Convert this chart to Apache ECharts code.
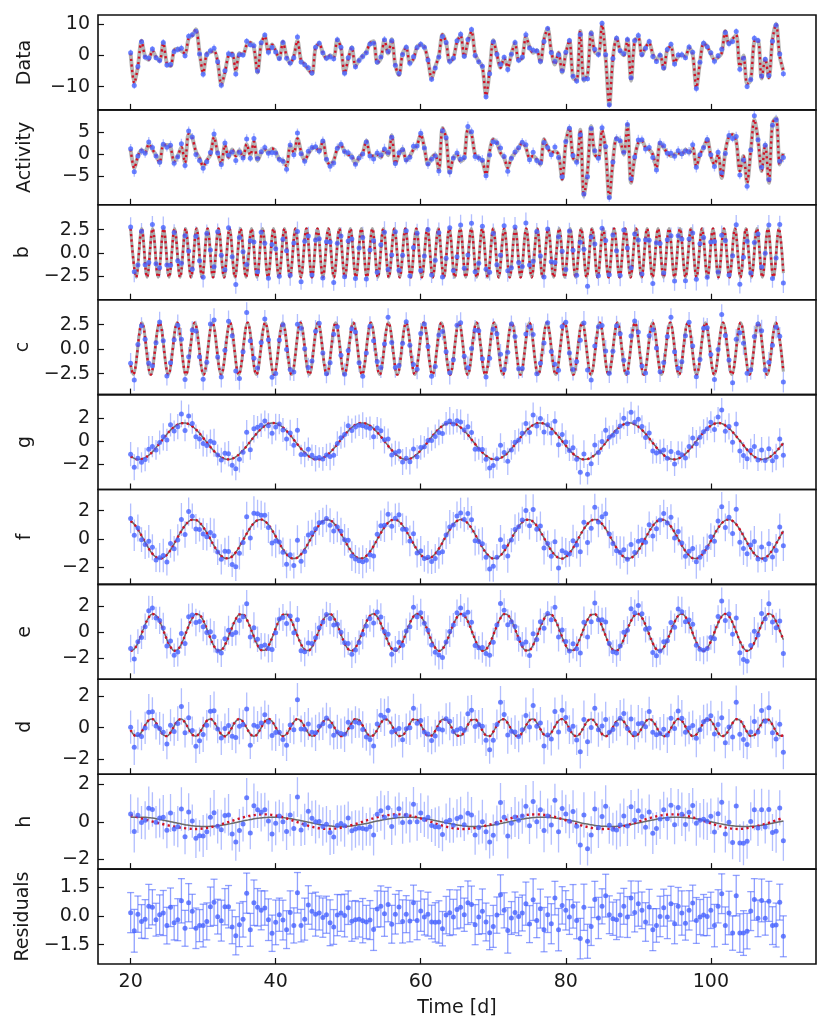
<!DOCTYPE html>
<html><head><meta charset="utf-8">
<script src="https://cdn.jsdelivr.net/npm/echarts@6/dist/echarts.min.js"></script>
<style>html,body{margin:0;padding:0;background:#fff}#c{width:831px;height:1035px}</style>
</head><body><div id="c"></div>
<script>
// ---------------- data ----------------
const T = [
20,20.5,21,21.5,22,22.5,23,23.5,24,24.5,
25,25.5,26,26.5,27,27.5,28,28.5,29,29.5,
30,30.5,31,31.5,32,32.5,33,33.5,34,34.5,
35,35.5,36,36.5,37,37.5,38,38.5,39,39.5,
40,40.5,41,41.5,42,42.5,43,43.5,44,44.5,
45,45.5,46,46.5,47,47.5,48,48.5,49,49.5,
50,50.5,51,51.5,52,52.5,53,53.5,54,54.5,
55,55.5,56,56.5,57,57.5,58,58.5,59,59.5,
60,60.5,61,61.5,62,62.5,63,63.5,64,64.5,
65,65.5,66,66.5,67,67.5,68,68.5,69,69.5,
70,70.5,71,71.5,72,72.5,73,73.5,74,74.5,
75,75.5,76,76.5,77,77.5,78,78.5,79,79.5,
80,80.5,81,81.5,82,82.5,83,83.5,84,84.5,
85,85.5,86,86.5,87,87.5,88,88.5,89,89.5,
90,90.5,91,91.5,92,92.5,93,93.5,94,94.5,
95,95.5,96,96.5,97,97.5,98,98.5,99,99.5,
100,100.5,101,101.5,102,102.5,103,103.5,104,104.5,
105,105.5,106,106.5,107,107.5,108,108.5,109,109.5,
110];

// residuals (bottom panel)
const RESID = [
0.18,-0.77,0.10,-0.28,-0.16,0.51,0.46,-0.19,0.07,0.16,
-0.50,0.46,-0.35,-0.19,0.80,-0.64,0.70,0.25,-0.64,-0.50,
-0.50,-0.28,0.49,0.72,-0.03,-0.24,0.49,0.49,-0.57,-1.03,
-0.46,-0.17,1.20,-0.72,0.70,0.46,0.30,0.42,-0.19,-0.90,
-0.33,0.07,-0.21,-0.71,0.19,-0.49,1.22,-0.50,-0.16,0.58,
0.25,0.10,0.16,-0.08,0.07,-0.35,-0.57,0.05,0.16,0.03,
0.44,-0.27,-0.19,-0.17,-0.24,-0.31,-0.21,-0.70,0.37,0.51,
0.12,0.60,-0.43,0.10,0.47,-0.28,0.10,-0.26,0.70,-0.23,
0.26,-0.05,0.10,-0.31,-0.33,-0.31,-0.66,0.05,0.18,-0.05,
0.35,0.46,0.07,0.70,0.61,-0.45,-0.05,0.25,-0.31,-0.87,
-0.54,0.05,1.12,0.30,-0.75,-0.10,0.19,-0.02,0.16,0.65,
-0.42,0.86,-0.23,0.39,-0.71,0.07,-0.40,0.94,-0.71,0.56,
0.30,-0.05,0.51,-0.23,-1.18,0.46,-1.32,-0.54,0.87,-0.10,
0.51,1.07,0.07,-0.14,-0.19,0.05,0.51,-0.05,0.94,0.19,
0.65,0.30,-0.31,0.47,-0.71,-0.49,-0.02,0.44,-0.05,0.65,
-0.40,0.51,0.16,-0.37,0.30,0.68,-0.23,-0.05,0.05,-0.02,
0.30,-0.50,0.51,1.17,-0.50,0.16,-0.89,1.07,-0.89,-0.89,
-0.79,0.26,0.87,-0.12,0.82,-0.12,0.77,-0.50,-0.47,0.73,
-1.06];

// per-point error (1 sigma)
const ERR = [
1.05,1.12,0.95,0.88,1.02,1.15,0.92,0.86,1.04,1.18,
0.96,1.01,0.90,1.10,1.16,0.94,1.00,0.89,1.06,0.84,
1.12,0.97,1.03,1.21,0.91,1.07,0.95,1.11,0.88,1.00,
1.14,0.93,1.05,0.86,1.19,0.98,1.02,0.90,1.09,0.95,
1.17,0.87,1.04,0.99,1.13,0.92,1.06,0.85,1.10,1.01,
0.94,1.15,0.89,1.03,0.97,1.20,0.91,1.08,0.96,1.12,
0.88,1.05,1.00,0.93,1.16,0.87,1.02,1.10,0.95,1.07,
1.18,0.90,0.99,1.04,0.86,1.13,0.97,1.09,0.92,1.01,
1.06,0.94,1.15,0.88,1.03,1.11,0.90,0.98,1.20,0.93,
1.02,1.08,0.87,1.14,0.96,1.05,0.91,1.17,0.99,0.89,
1.10,0.95,1.04,0.92,1.19,0.86,1.07,1.00,0.94,1.13,
0.97,1.09,0.90,1.02,1.16,0.93,1.05,0.88,1.11,0.98,
1.03,0.91,1.14,0.96,1.06,1.21,0.89,1.00,0.95,1.08,
0.92,1.12,0.99,0.87,1.04,1.15,0.94,1.07,0.90,1.02,
1.18,0.96,1.01,0.93,1.10,0.88,1.06,0.97,1.13,0.91,
1.05,0.99,1.16,0.89,1.03,0.94,1.20,0.92,1.08,1.00,
0.95,1.11,0.87,1.04,0.98,1.14,0.90,1.06,1.01,1.17,
0.93,1.02,1.09,0.96,1.12,0.88,1.05,0.99,1.15,0.94,
1.07];

// activity model (red dotted, Activity panel)
const ACT_FIT = [
1.0,-3.3,-0.6,0.9,0.3,2.2,1.0,-0.3,-2.0,2.0,
2.0,1.5,-1.8,-0.5,1.5,-2.0,4.5,3.6,0.5,-1.0,
-2.8,-1.5,-0.2,3.8,0.2,-2.2,2.0,-0.8,1.0,-0.5,
0.8,-0.8,2.2,-0.3,2.8,-1.5,0.2,1.0,0.3,1.2,
0.5,-1.3,-1.5,-2.8,1.8,0.3,3.5,0.5,-1.5,0.0,
1.2,1.5,0.5,3.0,-1.3,-2.5,-1.5,1.2,2.0,0.5,
-0.2,-0.5,-2.2,-0.8,0.2,3.0,-0.3,-0.5,-0.2,-0.8,
1.0,-0.3,4.2,-2.3,-0.2,1.2,-1.5,-0.5,1.0,2.0,
4.4,1.4,-2.4,-0.9,-0.15,-3.6,5.9,3.6,-4.3,-0.9,
-0.15,-1.7,-0.9,5.5,4.4,-0.15,-0.9,-1.7,-4.7,0.6,
3.3,2.5,0.2,-0.9,-3.2,-0.9,0.2,1.4,2.5,1.4,
-0.9,-0.5,-1.3,-2.4,3.3,1.4,0.2,0.6,-0.15,-5.8,
2.5,5.9,-0.9,-1.7,5.5,-9.6,-3.9,6.3,-0.15,-0.9,
5.4,0.6,-10.0,-1.7,3.6,2.9,-0.15,6.7,-6.6,-0.9,
2.5,2.9,1.4,1.0,-0.15,-3.2,2.5,1.4,0.2,-0.5,
-0.15,0.2,-0.15,1.0,0.2,1.4,-2.8,-0.15,1.4,3.3,
-0.5,-2.4,-0.15,-5.5,0.6,4.0,4.4,2.9,-3.9,-0.5,
-6.6,0.6,7.8,3.3,-3.9,2.1,-6.6,7.0,8.2,-2.4,
0.2];

// planet signals at the observation times
const B_FIT = [
2.62,-1.26,-1.40,2.61,-1.12,-1.54,2.60,-0.97,-1.67,2.58,
-0.81,-1.79,2.54,-0.66,-1.90,2.49,-0.50,-2.01,2.44,-0.34,
-2.11,2.38,-0.18,-2.21,2.30,-0.01,-2.29,2.22,0.15,-2.36,
2.13,0.31,-2.43,2.03,0.47,-2.49,1.92,0.63,-2.53,1.81,
0.79,-2.57,1.69,0.94,-2.60,1.56,1.09,-2.61,1.43,1.24,
-2.62,1.29,1.38,-2.62,1.14,1.52,-2.60,0.99,1.65,-2.58,
0.84,1.77,-2.55,0.69,1.89,-2.50,0.53,2.00,-2.45,0.36,
2.10,-2.39,0.20,2.19,-2.32,0.04,2.28,-2.23,-0.12,2.35,
-2.15,-0.28,2.42,-2.05,-0.45,2.48,-1.94,-0.61,2.53,-1.83,
-0.76,2.56,-1.71,-0.92,2.59,-1.58,-1.07,2.61,-1.45,-1.21,
2.62,-1.31,-1.36,2.62,-1.17,-1.49,2.61,-1.02,-1.62,2.58,
-0.87,-1.75,2.55,-0.71,-1.87,2.51,-0.55,-1.98,2.46,-0.39,
-2.08,2.40,-0.23,-2.17,2.33,-0.07,-2.26,2.25,0.09,-2.34,
2.16,0.26,-2.41,2.06,0.42,-2.47,1.96,0.58,-2.52,1.85,
0.74,-2.56,1.73,0.89,-2.59,1.60,1.04,-2.61,1.47,1.19,
-2.62,1.33,1.33,-2.62,1.19,1.47,-2.61,1.04,1.60,-2.59,
0.89,1.73,-2.56,0.74,1.85,-2.52,0.58,1.96,-2.47,0.42,
2.06,-2.41,0.26,2.16,-2.34,0.10,2.25,-2.26,-0.07,2.33,
-2.18];

const C_FIT = [
-1.61,-2.39,0.37,2.67,1.16,-1.96,-2.16,0.85,2.70,0.70,
-2.24,-1.85,1.30,2.64,0.21,-2.45,-1.48,1.71,2.49,-0.28,
-2.57,-1.05,2.07,2.25,-0.76,-2.60,-0.59,2.35,1.94,-1.21,
-2.54,-0.10,2.55,1.57,-1.62,-2.39,0.39,2.67,1.14,-1.97,
-2.15,0.87,2.70,0.68,-2.26,-1.84,1.32,2.63,0.19,-2.46,
-1.46,1.73,2.48,-0.30,-2.57,-1.03,2.08,2.24,-0.78,-2.60,
-0.57,2.36,1.93,-1.22,-2.53,-0.08,2.56,1.55,-1.63,-2.38,
0.41,2.67,1.12,-1.98,-2.14,0.89,2.70,0.66,-2.26,-1.83,
1.34,2.63,0.17,-2.46,-1.45,1.75,2.47,-0.32,-2.58,-1.02,
2.09,2.23,-0.80,-2.60,-0.55,2.37,1.92,-1.24,-2.53,-0.06,
2.57,1.53,-1.64,-2.38,0.43,2.68,1.10,-1.99,-2.14,0.91,
2.70,0.64,-2.27,-1.83,1.35,2.63,0.15,-2.47,-1.45,1.76,
2.46,-0.34,-2.58,-1.03,2.10,2.22,-0.82,-2.60,-0.56,2.38,
1.91,-1.26,-2.53,-0.08,2.57,1.52,-1.65,-2.37,0.41,2.68,
1.09,-2.01,-2.13,0.89,2.69,0.62,-2.28,-1.81,1.34,2.62,
0.13,-2.47,-1.44,1.74,2.46,-0.36,-2.58,-1.01,2.09,2.21,
-0.84,-2.60,-0.55,2.37,1.89,-1.27,-2.53,-0.06,2.56,1.50,
-1.68,-2.36,0.43,2.68,1.07,-2.02,-2.11,0.91,2.70,0.60,
-2.29];

const G_FIT = [
-1.31,-1.49,-1.58,-1.55,-1.43,-1.22,-0.93,-0.57,-0.18,0.22,
0.61,0.96,1.24,1.45,1.56,1.57,1.48,1.29,1.02,0.68,
0.30,-0.10,-0.50,-0.86,-1.17,-1.40,-1.54,-1.58,-1.52,-1.36,
-1.11,-0.79,-0.42,-0.02,0.38,0.75,1.08,1.34,1.52,1.58,
1.55,1.41,1.19,0.89,0.53,0.13,-0.27,-0.65,-0.99,-1.27,
-1.47,-1.57,-1.57,-1.46,-1.26,-0.98,-0.64,-0.26,0.14,0.54,
0.89,1.19,1.42,1.55,1.58,1.51,1.34,1.09,0.77,0.40,
0.00,-0.40,-0.77,-1.10,-1.35,-1.52,-1.58,-1.53,-1.37,-1.12,
-0.80,-0.43,-0.04,0.36,0.74,1.07,1.33,1.51,1.58,1.55,
1.42,1.20,0.90,0.55,0.15,-0.25,-0.64,-0.98,-1.26,-1.46,
-1.57,-1.57,-1.47,-1.28,-1.00,-0.66,-0.28,0.12,0.52,0.88,
1.18,1.41,1.55,1.58,1.51,1.35,1.10,0.78,0.41,0.02,
-0.38,-0.76,-1.08,-1.34,-1.52,-1.58,-1.55,-1.41,-1.19,-0.89,
-0.53,-0.13,0.27,0.65,1.00,1.27,1.47,1.57,1.57,1.46,
1.26,0.98,0.64,0.25,-0.15,-0.54,-0.90,-1.20,-1.42,-1.55,
-1.58,-1.51,-1.34,-1.09,-0.77,-0.40,0.00,0.40,0.77,1.10,
1.35,1.52,1.58,1.53,1.37,1.12,0.80,0.43,0.04,-0.36,
-0.74,-1.07,-1.34,-1.51,-1.58,-1.55,-1.42,-1.20,-0.90,-0.54,
-0.15];

const F_FIT = [
1.28,1.04,0.68,0.24,-0.23,-0.67,-1.04,-1.28,-1.38,-1.32,
-1.11,-0.77,-0.34,0.13,0.58,0.96,1.24,1.37,1.35,1.17,
0.85,0.44,-0.02,-0.48,-0.89,-1.19,-1.35,-1.36,-1.22,-0.93,
-0.54,-0.08,0.38,0.80,1.13,1.33,1.38,1.26,1.01,0.63,
0.19,-0.28,-0.72,-1.07,-1.30,-1.38,-1.30,-1.07,-0.72,-0.29,
0.18,0.63,1.00,1.26,1.38,1.33,1.14,0.81,0.39,-0.08,
-0.53,-0.93,-1.22,-1.36,-1.36,-1.19,-0.89,-0.49,-0.03,0.43,
0.85,1.16,1.34,1.37,1.24,0.97,0.58,0.13,-0.33,-0.76,
-1.10,-1.32,-1.38,-1.28,-1.04,-0.68,-0.24,0.23,0.67,1.04,
1.28,1.38,1.32,1.10,0.76,0.34,-0.13,-0.58,-0.97,-1.24,
-1.37,-1.34,-1.16,-0.85,-0.44,0.03,0.49,0.89,1.19,1.36,
1.36,1.22,0.93,0.53,0.08,-0.39,-0.81,-1.13,-1.33,-1.38,
-1.26,-1.00,-0.63,-0.18,0.29,0.72,1.07,1.30,1.38,1.30,
1.07,0.72,0.28,-0.18,-0.63,-1.00,-1.26,-1.38,-1.33,-1.13,
-0.81,-0.39,0.08,0.54,0.93,1.22,1.36,1.36,1.19,0.89,
0.48,0.02,-0.44,-0.85,-1.16,-1.35,-1.37,-1.24,-0.96,-0.58,
-0.13,0.34,0.77,1.11,1.32,1.38,1.28,1.04,0.67,0.23,
-0.24,-0.68,-1.04,-1.28,-1.38,-1.32,-1.10,-0.76,-0.33,0.13,
0.58];

const E_FIT = [
-1.42,-1.28,-0.81,-0.12,0.59,1.15,1.41,1.30,0.85,0.17,
-0.55,-1.12,-1.41,-1.32,-0.89,-0.22,0.50,1.09,1.40,1.34,
0.93,0.27,-0.45,-1.06,-1.39,-1.35,-0.97,-0.32,0.40,1.02,
1.38,1.37,1.00,0.37,-0.35,-0.99,-1.36,-1.38,-1.04,-0.42,
0.30,0.95,1.35,1.39,1.07,0.47,-0.25,-0.91,-1.33,-1.40,
-1.11,-0.52,0.20,0.87,1.31,1.41,1.14,0.57,-0.15,-0.83,
-1.29,-1.41,-1.17,-0.61,0.10,0.79,1.27,1.42,1.20,0.66,
-0.05,-0.74,-1.25,-1.42,-1.22,-0.71,0.00,0.70,1.22,1.42,
1.25,0.75,0.06,-0.65,-1.19,-1.42,-1.27,-0.79,-0.11,0.61,
1.16,1.41,1.29,0.84,0.16,-0.56,-1.13,-1.41,-1.31,-0.88,
-0.21,0.51,1.10,1.40,1.33,0.92,0.26,-0.47,-1.07,-1.39,
-1.35,-0.96,-0.31,0.42,1.03,1.38,1.36,0.99,0.36,-0.37,
-1.00,-1.37,-1.38,-1.03,-0.41,0.32,0.96,1.35,1.39,1.06,
0.46,-0.27,-0.92,-1.34,-1.40,-1.10,-0.51,0.22,0.88,1.32,
1.41,1.13,0.55,-0.16,-0.84,-1.30,-1.41,-1.16,-0.60,0.11,
0.80,1.28,1.42,1.19,0.65,-0.06,-0.76,-1.25,-1.42,-1.22,
-0.69,0.01,0.71,1.23,1.42,1.24,0.74,0.04,-0.67,-1.20,
-1.42,-1.27,-0.78,-0.09,0.62,1.17,1.42,1.29,0.82,0.14,
-0.57];

const D_FIT = [
-0.15,-0.48,-0.53,-0.28,0.14,0.47,0.54,0.29,-0.12,-0.46,
-0.54,-0.31,0.10,0.45,0.54,0.32,-0.08,-0.44,-0.54,-0.33,
0.07,0.43,0.55,0.35,-0.05,-0.42,-0.55,-0.36,0.03,0.41,
0.55,0.37,-0.02,-0.40,-0.55,-0.39,0.00,0.39,0.55,0.40,
0.02,-0.37,-0.55,-0.41,-0.03,0.36,0.55,0.42,0.05,-0.35,
-0.55,-0.43,-0.07,0.33,0.54,0.44,0.09,-0.32,-0.54,-0.45,
-0.10,0.31,0.54,0.46,0.12,-0.29,-0.54,-0.47,-0.14,0.28,
0.53,0.48,0.15,-0.26,-0.53,-0.49,-0.17,0.25,0.52,0.50,
0.19,-0.23,-0.51,-0.50,-0.20,0.22,0.51,0.51,0.22,-0.20,
-0.50,-0.52,-0.23,0.18,0.49,0.52,0.25,-0.17,-0.49,-0.53,
-0.26,0.15,0.48,0.53,0.28,-0.13,-0.47,-0.54,-0.29,0.12,
0.46,0.54,0.31,-0.10,-0.45,-0.54,-0.32,0.08,0.44,0.54,
0.34,-0.07,-0.43,-0.55,-0.35,0.05,0.42,0.55,0.36,-0.03,
-0.41,-0.55,-0.37,0.02,0.40,0.55,0.39,0.00,-0.39,-0.55,
-0.40,-0.02,0.37,0.55,0.41,0.04,-0.36,-0.55,-0.42,-0.05,
0.35,0.55,0.43,0.07,-0.33,-0.54,-0.44,-0.09,0.32,0.54,
0.45,0.10,-0.31,-0.54,-0.46,-0.12,0.29,0.53,0.47,0.14,
-0.28,-0.53,-0.48,-0.15,0.26,0.53,0.49,0.17,-0.25,-0.52,
-0.50];

const H_FIT = [
0.24,0.25,0.25,0.25,0.24,0.22,0.20,0.17,0.13,0.09,
0.05,0.01,-0.03,-0.07,-0.11,-0.15,-0.18,-0.21,-0.23,-0.24,
-0.25,-0.25,-0.24,-0.23,-0.21,-0.18,-0.15,-0.12,-0.08,-0.04,
0.00,0.05,0.09,0.12,0.16,0.19,0.21,0.23,0.24,0.25,
0.25,0.24,0.22,0.20,0.17,0.14,0.10,0.06,0.02,-0.02,
-0.06,-0.10,-0.14,-0.17,-0.20,-0.22,-0.24,-0.25,-0.25,-0.24,
-0.23,-0.21,-0.19,-0.16,-0.12,-0.09,-0.05,0.00,0.04,0.08,
0.12,0.15,0.18,0.21,0.23,0.24,0.25,0.25,0.24,0.23,
0.21,0.18,0.15,0.11,0.07,0.03,-0.01,-0.05,-0.09,-0.13,
-0.17,-0.20,-0.22,-0.24,-0.25,-0.25,-0.25,-0.24,-0.22,-0.20,
-0.17,-0.13,-0.09,-0.05,-0.01,0.03,0.07,0.11,0.15,0.18,
0.21,0.23,0.24,0.25,0.25,0.24,0.23,0.21,0.18,0.15,
0.12,0.08,0.04,0.00,-0.05,-0.09,-0.12,-0.16,-0.19,-0.21,
-0.23,-0.24,-0.25,-0.25,-0.24,-0.22,-0.20,-0.17,-0.14,-0.10,
-0.06,-0.02,0.02,0.06,0.10,0.14,0.17,0.20,0.22,0.24,
0.25,0.25,0.24,0.23,0.21,0.19,0.16,0.13,0.09,0.05,
0.00,-0.04,-0.08,-0.12,-0.15,-0.18,-0.21,-0.23,-0.24,-0.25,
-0.25,-0.24,-0.23,-0.21,-0.18,-0.15,-0.11,-0.07,-0.03,0.01,
0.05];

// model curves of the fast signals: turning points (time, value)
const B_EXT_T = [
20,20.76,21.52,22.27,23.03,23.79,24.55,25.3,26.06,26.82,
27.58,28.33,29.09,29.85,30.61,31.36,32.12,32.88,33.64,34.39,
35.15,35.91,36.67,37.42,38.18,38.94,39.7,40.45,41.21,41.97,
42.73,43.48,44.24,45,45.76,46.51,47.27,48.03,48.79,49.54,
50.3,51.06,51.82,52.57,53.33,54.09,54.85,55.6,56.36,57.12,
57.88,58.63,59.39,60.15,60.91,61.66,62.42,63.18,63.94,64.69,
65.45,66.21,66.97,67.72,68.48,69.24,70,70.75,71.51,72.27,
73.03,73.78,74.54,75.3,76.06,76.81,77.57,78.33,79.09,79.84,
80.6,81.36,82.12,82.87,83.63,84.39,85.15,85.9,86.66,87.42,
88.18,88.93,89.69,90.45,91.21,91.96,92.72,93.48,94.24,94.99,
95.75,96.51,97.27,98.02,98.78,99.54,100.3,101.05,101.81,102.57,
103.33,104.08,104.84,105.6,106.36,107.11,107.87,108.63,109.39,110];
const B_EXT_V = [
2.62,-2.62,2.62,-2.62,2.62,-2.62,2.62,-2.62,2.62,-2.62,
2.62,-2.62,2.62,-2.62,2.62,-2.62,2.62,-2.62,2.62,-2.62,
2.62,-2.62,2.62,-2.62,2.62,-2.62,2.62,-2.62,2.62,-2.62,
2.62,-2.62,2.62,-2.62,2.62,-2.62,2.62,-2.62,2.62,-2.62,
2.62,-2.62,2.62,-2.62,2.62,-2.62,2.62,-2.62,2.62,-2.62,
2.62,-2.62,2.62,-2.62,2.62,-2.62,2.62,-2.62,2.62,-2.62,
2.62,-2.62,2.62,-2.62,2.62,-2.62,2.62,-2.62,2.62,-2.62,
2.62,-2.62,2.62,-2.62,2.62,-2.62,2.62,-2.62,2.62,-2.62,
2.62,-2.62,2.62,-2.62,2.62,-2.62,2.62,-2.62,2.62,-2.62,
2.62,-2.62,2.62,-2.62,2.62,-2.62,2.62,-2.62,2.62,-2.62,
2.62,-2.62,2.62,-2.62,2.62,-2.62,2.62,-2.62,2.62,-2.62,
2.62,-2.62,2.62,-2.62,2.62,-2.62,2.62,-2.62,2.62,-2.18];

const C_EXT_T = [
20,20.35,21.56,22.77,23.99,25.2,26.42,27.63,28.84,30.06,
31.27,32.49,33.7,34.91,36.13,37.34,38.56,39.77,40.98,42.2,
43.41,44.63,45.84,47.05,48.27,49.48,50.7,51.91,53.12,54.34,
55.55,56.77,57.98,59.19,60.41,61.62,62.84,64.05,65.26,66.48,
67.69,68.91,70.12,71.33,72.55,73.76,74.98,76.19,77.4,78.62,
79.83,81.05,82.26,83.47,84.69,85.9,87.12,88.33,89.54,90.76,
91.97,93.19,94.4,95.61,96.83,98.04,99.26,100.47,101.68,102.9,
104.11,105.33,106.54,107.75,108.97,110];
const C_EXT_V = [
-1.61,-2.6,2.7,-2.6,2.7,-2.6,2.7,-2.6,2.7,-2.6,
2.7,-2.6,2.7,-2.6,2.7,-2.6,2.7,-2.6,2.7,-2.6,
2.7,-2.6,2.7,-2.6,2.7,-2.6,2.7,-2.6,2.7,-2.6,
2.7,-2.6,2.7,-2.6,2.7,-2.6,2.7,-2.6,2.7,-2.6,
2.7,-2.6,2.7,-2.6,2.7,-2.6,2.7,-2.6,2.7,-2.6,
2.7,-2.6,2.7,-2.6,2.7,-2.6,2.7,-2.6,2.7,-2.6,
2.7,-2.6,2.7,-2.6,2.7,-2.6,2.7,-2.6,2.7,-2.6,
2.7,-2.6,2.7,-2.6,2.7,-2.29];

// h: predicted (red dotted) curve turning points
const HP_T = [20,28.9,38.4,47.2,56.8,65.8,75.9,85.2,94.8,103.8,110];
const HP_V = [0.36,-0.38,0.40,-0.38,0.40,-0.38,0.40,-0.38,0.40,-0.38,0.22];

const X_TICKS = [20,40,60,80,100];
const PANEL_NAMES = ['Data','Activity','b','c','g','f','e','d','h','Residuals'];
const Y_TICKS = [[-10,0,10],[-5,0,5],[-2.5,0,2.5],[-2.5,0,2.5],[-2,0,2],[-2,0,2],[-2,0,2],[-2,0,2],[-2,0,2],[-1.5,0,1.5]];
const Y_RANGE = [[-17.5,13],[-11.6,10],[-5.03,5.18],[-4.64,5.05],[-4.19,4.04],[-3.2,3.5],[-3.6,3.68],[-2.95,3.06],[-2.52,2.54],[-2.51,2.46]];
const Y_DEC = [0,0,1,1,0,0,0,0,0,1];

// ---------------- build ----------------
const FONT = 'DejaVu Sans';
const TXT = '#1a1a1a';
const BLUE = '#4763ff';
const EB = 'rgba(71,99,255,0.42)';
const RED = '#d01226';

const total = T.map((t,i)=>ACT_FIT[i]+B_FIT[i]+C_FIT[i]+D_FIT[i]+E_FIT[i]+F_FIT[i]+G_FIT[i]+H_FIT[i]);
const fits = [total, ACT_FIT, B_FIT, C_FIT, G_FIT, F_FIT, E_FIT, D_FIT, H_FIT, null];

function pairs(xs, ys){ return xs.map((x,i)=>[x, ys[i]]); }
function fmt(v, d){ const s = Math.abs(v).toFixed(d); return (v < 0 ? '\u2212' : '') + s; }
function errRender(cap){
  return function(params, api){
    const x = api.value(0), y = api.value(1), e = api.value(2);
    const a = api.coord([x, y + e]), b = api.coord([x, y - e]);
    const st = {stroke: cap ? 'rgba(71,99,255,0.6)' : EB, lineWidth: 1.3};
    const ch = [{type:'line', shape:{x1:a[0], y1:a[1], x2:b[0], y2:b[1]}, style:st}];
    if (cap) {
      ch.push({type:'line', shape:{x1:a[0]-3.5, y1:a[1], x2:a[0]+3.5, y2:a[1]}, style:st});
      ch.push({type:'line', shape:{x1:b[0]-3.5, y1:b[1], x2:b[0]+3.5, y2:b[1]}, style:st});
    }
    return {type:'group', children:ch};
  };
}

const grids = [], xAxes = [], yAxes = [], series = [];
const PH = 94.9;
PANEL_NAMES.forEach((name, k) => {
  grids.push({left:98, right:15, top:15 + k*PH, height:PH, show:true, borderColor:'#111', borderWidth:1.6, backgroundColor:'rgba(0,0,0,0)'});
  const last = k === PANEL_NAMES.length - 1;
  xAxes.push({
    type:'value', gridIndex:k, min:15.5, max:114.5, position:'bottom',
    axisLine:{show:false, onZero:false}, splitLine:{show:false},
    axisTick:{show:true, inside:true, length:6, lineStyle:{color:'#111', width:1.2}, customValues:X_TICKS},
    axisLabel:{show:last, customValues:X_TICKS, fontSize:19, color:TXT, fontFamily:FONT, margin:9},
    name: last ? 'Time [d]' : '', nameLocation:'middle', nameGap:35,
    nameTextStyle:{fontSize:19, color:TXT, fontFamily:FONT}
  });
  const dec = Y_DEC[k];
  yAxes.push({
    type:'value', gridIndex:k, min:Y_RANGE[k][0], max:Y_RANGE[k][1], position:'left',
    axisLine:{show:false, onZero:false}, splitLine:{show:false},
    axisTick:{show:true, inside:true, length:6, lineStyle:{color:'#111', width:1.2}, customValues:Y_TICKS[k]},
    axisLabel:{customValues:Y_TICKS[k], fontSize:19, color:TXT, fontFamily:FONT, margin:8, formatter:(v)=>fmt(v, dec)},
    name:name, nameLocation:'middle', nameGap:63,
    nameTextStyle:{fontSize:19, color:TXT, fontFamily:FONT}
  });

  const fit = fits[k];
  const pts = last ? RESID : T.map((t,i)=>fit[i] + RESID[i]);

  series.push({
    type:'custom', xAxisIndex:k, yAxisIndex:k, z:2, silent:true, clip:true,
    renderItem: errRender(last),
    data: T.map((t,i)=>[t, pts[i], ERR[i]])
  });

  if (!last) {
    let grayData, redData, grayStyle, sm = 0.35, smRed = 0.35;
    if (k <= 1) {
      grayData = pairs(T, fit); redData = grayData;
      grayStyle = {color:'#b5b5b5', width:4}; sm = smRed = 0.3;
    } else if (k === 2) {
      grayData = pairs(B_EXT_T, B_EXT_V); redData = grayData;
      grayStyle = {color:'#a8a8a8', width:3}; sm = smRed = 0.36;
    } else if (k === 3) {
      grayData = pairs(C_EXT_T, C_EXT_V); redData = grayData;
      grayStyle = {color:'#a8a8a8', width:3}; sm = smRed = 0.36;
    } else if (k === 8) {
      grayData = pairs(T, fit); redData = pairs(HP_T, HP_V);
      grayStyle = {color:'#6a6a6a', width:1.5}; sm = 0.4; smRed = 0.36;
    } else {
      grayData = pairs(T, fit); redData = grayData;
      grayStyle = {color:'#6a6a6a', width:1.5}; sm = smRed = 0.4;
    }
    series.push({type:'line', xAxisIndex:k, yAxisIndex:k, z:3, silent:true, showSymbol:false, smooth:sm,
      data:grayData, lineStyle:grayStyle});
    series.push({type:'line', xAxisIndex:k, yAxisIndex:k, z:4, silent:true, showSymbol:false, smooth:smRed,
      data:redData, lineStyle:{color:RED, width:2.4, type:[2.2,3.3], cap:'butt'}});
  }

  series.push({type:'scatter', xAxisIndex:k, yAxisIndex:k, z:5, silent:true, symbol:'circle', symbolSize:5,
    itemStyle:{color:BLUE}, data: pairs(T, pts)});
});

const chart = echarts.init(document.getElementById('c'), null, {renderer:'canvas', width:831, height:1035});
chart.setOption({animation:false, backgroundColor:'#fff', grid:grids, xAxis:xAxes, yAxis:yAxes, series:series});
</script>
</body></html>
